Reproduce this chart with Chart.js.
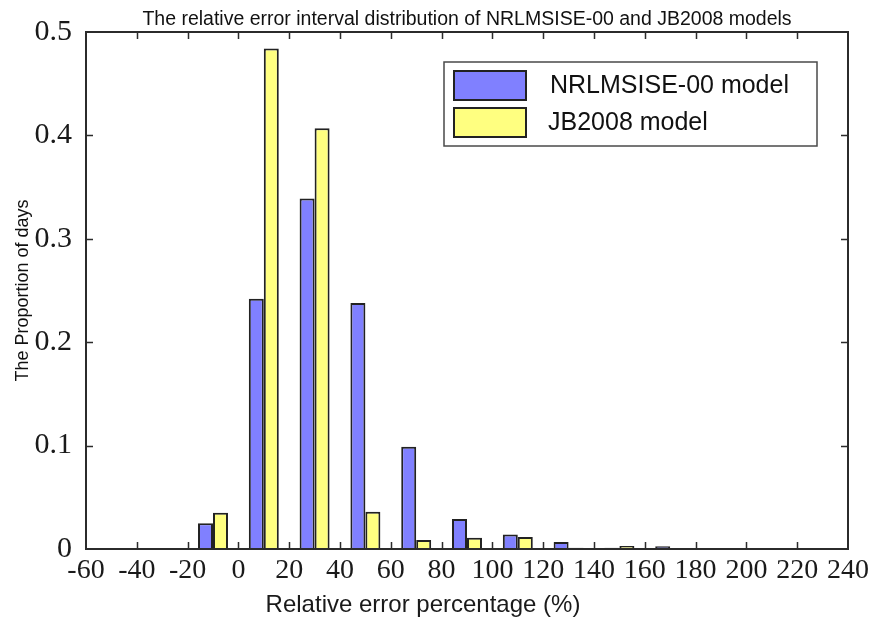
<!DOCTYPE html>
<html>
<head>
<meta charset="utf-8">
<script src="https://cdn.jsdelivr.net/npm/chart.js@4.4.1/dist/chart.umd.min.js"></script>
<style>
  html, body { margin: 0; padding: 0; background: #fff; }
  #wrap { width: 874px; height: 621px; }
</style>
</head>
<body>
<div id="wrap"><canvas id="chart" width="874" height="621"></canvas></div>
<script>
// bin centres (relative error %, 20% wide bins)
const binCenters = [-50, -30, -10, 10, 30, 50, 70, 90, 110, 130, 150, 170, 190, 210, 230];
const nrlmsiseValues = [0.001, 0.001, 0.025, 0.242, 0.339, 0.238, 0.099, 0.029, 0.014, 0.0068, 0.0013, 0.0026, 0.0008, 0.001, 0.0008];
const jb2008Values = [0, 0, 0.035, 0.484, 0.407, 0.036, 0.0087, 0.011, 0.0116, 0.0013, 0.003, 0.0008, 0.0006, 0, 0];
const xTickValues = [-60, -40, -20, 0, 20, 40, 60, 80, 100, 120, 140, 160, 180, 200, 220, 240];
const yTickValues = [0, 0.1, 0.2, 0.3, 0.4, 0.5];

const chartTitle = 'The relative error interval distribution of NRLMSISE-00 and JB2008 models';
const xTitle = 'Relative error percentage (%)';
const yTitle = 'The Proportion of days';

const serif = "'Liberation Serif', 'Times New Roman', serif";
const sans = "'Liberation Sans', Arial, sans-serif";

function toPoints(values) {
  return binCenters.map((x, i) => ({ x: x, y: values[i] }));
}

// box, inward ticks, legend and x title (matlab style)
const matlabFrame = {
  id: 'matlabFrame',
  afterDraw(chart) {
    const ctx = chart.ctx;
    const a = chart.chartArea;
    const xs = chart.scales.x, ys = chart.scales.y;
    const tl = 7;
    ctx.save();
    ctx.strokeStyle = '#2b2b2b';
    ctx.lineWidth = 1.5;
    ctx.beginPath();
    xTickValues.forEach(v => {
      if (v === xs.min || v === xs.max) return;
      const px = Math.round(xs.getPixelForValue(v)) + 0.5;
      ctx.moveTo(px, a.bottom); ctx.lineTo(px, a.bottom - tl);
      ctx.moveTo(px, a.top); ctx.lineTo(px, a.top + tl);
    });
    yTickValues.forEach(v => {
      if (v === ys.min || v === ys.max) return;
      const py = Math.round(ys.getPixelForValue(v)) + 0.5;
      ctx.moveTo(a.left, py); ctx.lineTo(a.left + tl, py);
      ctx.moveTo(a.right, py); ctx.lineTo(a.right - tl, py);
    });
    ctx.stroke();
    ctx.lineWidth = 2;
    ctx.strokeRect(a.left, a.top, a.right - a.left, a.bottom - a.top);

    // x axis title
    ctx.fillStyle = '#1a1a1a';
    ctx.font = '24px ' + sans;
    ctx.textAlign = 'center';
    ctx.textBaseline = 'middle';
    ctx.fillText(xTitle, 423, 605);

    // legend
    const lx = 444, ly = 62, lw = 373, lh = 84;
    ctx.fillStyle = '#fff';
    ctx.fillRect(lx, ly, lw, lh);
    ctx.strokeStyle = '#4a4a4a';
    ctx.lineWidth = 1.5;
    ctx.strokeRect(lx, ly, lw, lh);
    chart.data.datasets.forEach((ds, i) => {
      const sy = ly + 9 + i * 37;
      ctx.fillStyle = ds.backgroundColor;
      ctx.fillRect(lx + 10, sy, 72, 29);
      ctx.strokeStyle = '#222';
      ctx.lineWidth = 2;
      ctx.strokeRect(lx + 10, sy, 72, 29);
      ctx.fillStyle = '#111';
      ctx.font = '25px ' + sans;
      ctx.textAlign = 'left';
      ctx.fillText(ds.label, lx + 106 - i * 2, sy + 15);
    });
    ctx.restore();
  }
};

new Chart(document.getElementById('chart'), {
  type: 'bar',
  data: {
    datasets: [
      { label: 'NRLMSISE-00 model', data: toPoints(nrlmsiseValues), backgroundColor: '#8080ff', borderColor: '#222', borderWidth: 2 },
      { label: 'JB2008 model', data: toPoints(jb2008Values), backgroundColor: '#ffff80', borderColor: '#222', borderWidth: 2 }
    ]
  },
  options: {
    responsive: false,
    animation: false,
    devicePixelRatio: 1,
    layout: { padding: { right: 25 } },
    datasets: { bar: { categoryPercentage: 0.59, barPercentage: 1 } },
    plugins: {
      legend: { display: false },
      tooltip: { enabled: false },
      title: {
        display: true,
        fullSize: false,
        text: chartTitle,
        color: '#111',
        font: { family: sans, size: 19.5, weight: 'normal' },
        padding: { top: 8, bottom: 0.6 }
      }
    },
    scales: {
      x: {
        type: 'linear',
        min: -60,
        max: 240,
        offset: false,
        grid: { display: false, drawTicks: false },
        border: { display: false },
        afterBuildTicks: s => { s.ticks = xTickValues.map(v => ({ value: v })); },
        afterFit: s => { s.height = 72; },
        ticks: {
          autoSkip: false,
          maxRotation: 0,
          padding: 5,
          color: '#1a1a1a',
          font: { family: serif, size: 28 },
          callback: v => String(v)
        }
      },
      y: {
        min: 0,
        max: 0.5,
        grid: { display: false, drawTicks: false },
        border: { display: false },
        afterBuildTicks: s => { s.ticks = yTickValues.map(v => ({ value: v })); },
        afterFit: s => { s.width = 86; },
        ticks: {
          padding: 14,
          color: '#1a1a1a',
          font: { family: serif, size: 30 },
          callback: v => v === 0 ? '0' : Number(v).toFixed(1)
        },
        title: {
          display: true,
          text: yTitle,
          color: '#111',
          font: { family: sans, size: 18 },
          padding: { top: 12 }
        }
      }
    }
  },
  plugins: [matlabFrame]
});
</script>
</body>
</html>
